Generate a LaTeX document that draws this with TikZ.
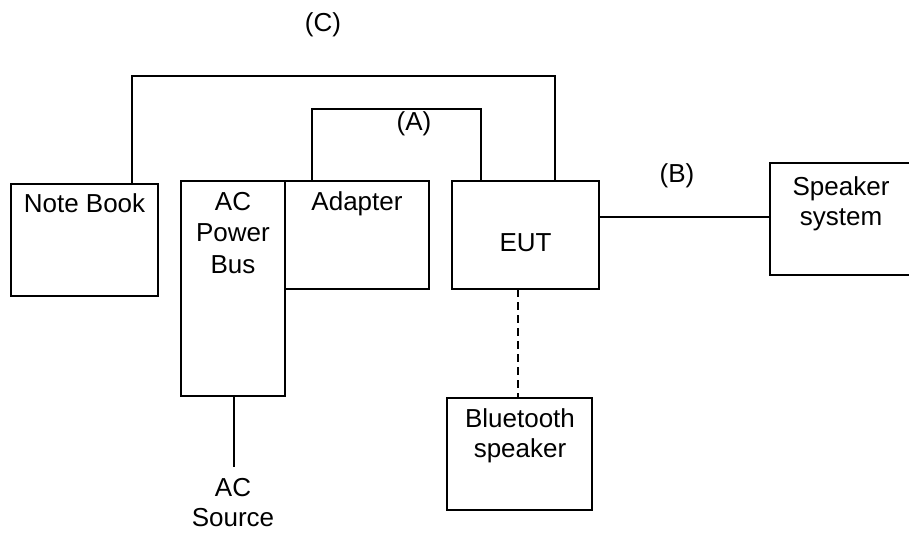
\documentclass[tikz,border=0pt]{standalone}
\usepackage{fontspec}
\setmainfont{Liberation Sans}
\begin{document}
\begin{tikzpicture}[x=1pt,y=-1pt,line width=1.9pt,
  box/.style={draw,rectangle,inner sep=0pt,outer sep=0pt},
  lbl/.style={anchor=north,inner sep=0pt,align=center,font=\fontsize{26}{31.5}\selectfont},
  lbls/.style={lbl,font=\fontsize{26}{30}\selectfont},
  dashline/.style={dash pattern=on 8pt off 5pt}]
\useasboundingbox (0,0) rectangle (909,533);
% boxes
\node[box,minimum width=147pt,minimum height=112pt] (nb) at (84.5,240) {};
\node[box,minimum width=104pt,minimum height=215pt] (acb) at (233,288.5) {};
\node[box,minimum width=144pt,minimum height=108pt] (ad) at (357,235) {};
\node[box,minimum width=147pt,minimum height=108pt] (eut) at (525.5,235) {};
\node[box,minimum width=142pt,minimum height=112pt] (sp) at (841,219) {};
\node[box,minimum width=145pt,minimum height=112pt] (bt) at (519.5,454) {};
% texts
\node[lbl] (nbT) at (84.5,193) {Note Book};
\node[lbl] (acbT) at (233,191) {AC\\Power\\Bus};
\node[lbl] (adT) at (357,191) {Adapter};
\node[lbl] (eutT) at (525.5,232.5) {EUT};
\node[lbls] (spT) at (841,176) {Speaker\\system};
\node[lbls] (btT) at (520,408) {Bluetooth\\speaker};
\node[lbls] (srcT) at (233,477) {AC\\Source};
\node[lbl] (labA) at (414,111) {(A)};
\node[lbl] (labB) at (677,163) {(B)};
\node[lbl] (labC) at (323,12) {(C)};
% connectors
\coordinate (cA) at (132,76);
\coordinate (cB) at (555,76);
\draw (nb.north -| cA) -- (cA) -- (cB) -- (eut.north -| cB);
\coordinate (aA) at (312,109);
\coordinate (aB) at (481,109);
\draw (ad.north -| aA) -- (aA) -- (aB) -- (eut.north -| aB);
\coordinate (bY) at (0,217);
\draw (eut.east |- bY) -- (sp.west |- bY);
\coordinate (dX) at (518,0);
\draw[dashline] (eut.south -| dX) -- (bt.north -| dX);
\coordinate (acend) at (234,467);
\draw (acb.south -| acend) -- (acend);
\end{tikzpicture}
\end{document}
